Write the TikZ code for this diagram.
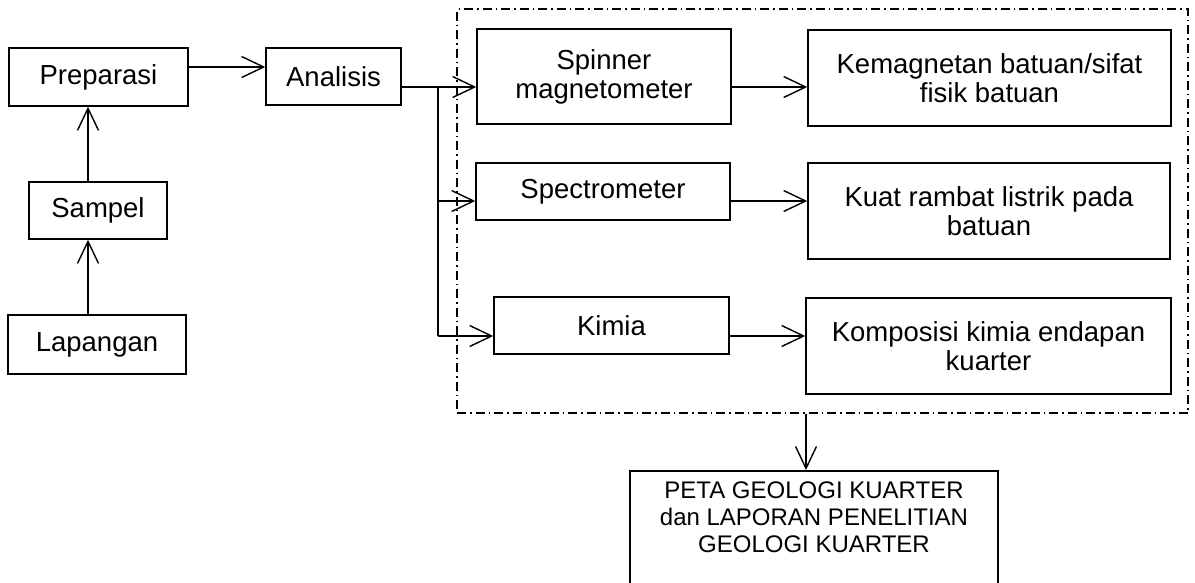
\documentclass[tikz,border=0pt]{standalone}
\usepackage{fontspec}
\setmainfont{Liberation Sans}
\usetikzlibrary{arrows.meta,calc}
\begin{document}
\begin{tikzpicture}[x=1pt,y=-1pt,
  box/.style={draw,line width=1.5pt,rectangle,inner sep=0pt,align=center,
    font=\fontsize{27.5}{29}\selectfont},
  arr/.style={line width=1.4pt,-{Straight Barb[length=22pt,width=21pt,line width=1.4pt]}},
  ln/.style={line width=1.4pt},
  dashdotbox/.style={draw,line width=1.3pt,rectangle,inner sep=0pt,
    dash pattern=on 9pt off 4pt on 1.5pt off 4pt}]
\useasboundingbox (0,0) rectangle (1195,582);
\clip (0,0) rectangle (1195,582);
% left column
\node[box,minimum width=179,minimum height=58] (prep) at (98.5,77) {Preparasi};
\node[box,minimum width=135,minimum height=57] (anal) at (333.5,76.5) {Analisis};
\node[box,minimum width=138,minimum height=57] (samp) at (98,210.5) {Sampel};
\node[box,minimum width=178,minimum height=59] (lap) at (97,344.5) {Lapangan};
% group
\node[dashdotbox,minimum width=731,minimum height=404] (grp) at (822.5,211) {};
% middle
\node[box,minimum width=254,minimum height=95] (spin) at (604,76.5) {Spinner\\magnetometer};
\node[box,minimum width=254,minimum height=57] (spec) at (603,191.5) {Spectrometer};
\node[box,minimum width=235,minimum height=57] (kimia) at (611.5,325.5) {Kimia};
% right
\node[box,minimum width=363,minimum height=96] (kem) at (989.5,78) {Kemagnetan batuan/sifat\\fisik batuan};
\node[box,minimum width=362,minimum height=96] (kuat) at (989,211) {Kuat rambat listrik pada\\batuan};
\node[box,minimum width=365,minimum height=96] (komp) at (988.5,346) {Komposisi kimia endapan\\kuarter};
% bottom
\node[box,anchor=north,inner sep=0pt] (peta) at (814,470)
  {\parbox[t][130pt][t]{368pt}{\centering\fontsize{24}{27}\selectfont\vspace{11pt}
   PETA GEOLOGI KUARTER\\dan LAPORAN PENELITIAN\\GEOLOGI KUARTER}};
% helper coordinates
\coordinate (pa) at (0,67);
\coordinate (vx) at (88,0);
\coordinate (split) at (438,87);
\coordinate (bspec) at (438,201);
\coordinate (bkim) at (438,336);
\coordinate (pin) at (806,470);
% connectors
\draw[arr] (prep.east |- pa) -- (anal.west |- pa);
\draw[arr] (samp.north -| vx) -- (prep.south -| vx);
\draw[arr] (lap.north -| vx) -- (samp.south -| vx);
\draw[ln] (anal.east |- split) -- (split);
\draw[ln] (split) -- (bkim);
\draw[arr] (split) -- (spin.west |- split);
\draw[arr] (bspec) -- (spec.west |- bspec);
\draw[arr] (bkim) -- (kimia.west |- bkim);
\draw[arr] (spin.east |- split) -- (kem.west |- split);
\draw[arr] (spec.east |- bspec) -- (kuat.west |- bspec);
\draw[arr] (kimia.east |- bkim) -- (komp.west |- bkim);
\draw[arr] (grp.south -| pin) -- (pin);
\end{tikzpicture}
\end{document}
